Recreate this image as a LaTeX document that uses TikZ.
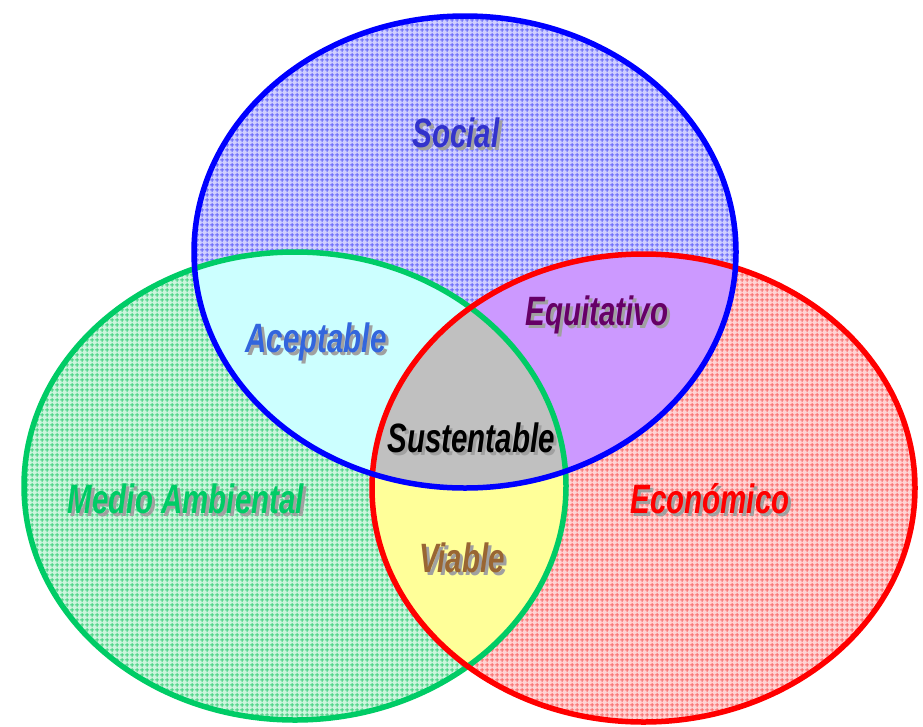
\documentclass[tikz,border=0pt]{standalone}
\usepackage{fontspec}
\usetikzlibrary{patterns}
\newfontfamily\labfont{Liberation Sans}[FakeStretch=0.72]
\definecolor{bluebase}{RGB}{208,208,255}
\definecolor{blueline}{RGB}{105,105,250}
\definecolor{greenbase}{RGB}{205,245,222}
\definecolor{greenline}{RGB}{70,210,130}
\definecolor{redbase}{RGB}{255,212,212}
\definecolor{redline}{RGB}{250,110,110}
\definecolor{cyanfill}{RGB}{204,255,255}
\definecolor{lilacfill}{RGB}{204,153,255}
\definecolor{yellowfill}{RGB}{255,255,153}
\definecolor{grayfill}{RGB}{192,192,192}
\definecolor{blueedge}{RGB}{0,0,255}
\definecolor{greenedge}{RGB}{0,204,102}
\definecolor{rededge}{RGB}{255,0,0}
\definecolor{socialtxt}{RGB}{51,51,204}
\definecolor{acepttxt}{RGB}{51,102,221}
\definecolor{equitxt}{RGB}{102,0,102}
\definecolor{viabletxt}{RGB}{153,102,51}
\definecolor{mediotxt}{RGB}{0,204,102}
\definecolor{econtxt}{RGB}{255,0,0}
\definecolor{shadowtxt}{RGB}{160,160,160}
\pgfdeclarepatternformonly{finegrid}{\pgfpointorigin}{\pgfpoint{5pt}{5pt}}{\pgfpoint{5pt}{5pt}}{%
  \pgfsetlinewidth{1.1pt}%
  \pgfpathmoveto{\pgfpoint{0pt}{2.5pt}}\pgfpathlineto{\pgfpoint{5pt}{2.5pt}}%
  \pgfpathmoveto{\pgfpoint{2.5pt}{0pt}}\pgfpathlineto{\pgfpoint{2.5pt}{5pt}}%
  \pgfusepath{stroke}}
\newcommand{\shadowed}[1]{\makebox[0pt][l]{\hspace{3pt}\raisebox{-3pt}{\textcolor{shadowtxt}{#1}}}#1}
\tikzset{
  edge/.style={line width=5.5pt},
  lab/.style={font=\labfont\fontsize{41}{41}\selectfont\bfseries\itshape, inner sep=0pt, anchor=base},
}
\begin{document}
\begin{tikzpicture}[x=1pt,y=-1pt]
\useasboundingbox (0,0) rectangle (923,726);
% base hatched fills
\fill[greenbase] (295,486) ellipse [x radius=271pt, y radius=234pt];
\fill[pattern=finegrid, pattern color=greenline] (295,486) ellipse [x radius=271pt, y radius=234pt];
\fill[redbase] (643.5,488) ellipse [x radius=271.5pt, y radius=234pt];
\fill[pattern=finegrid, pattern color=redline] (643.5,488) ellipse [x radius=271.5pt, y radius=234pt];
\fill[bluebase] (465,252) ellipse [x radius=271pt, y radius=236pt];
\fill[pattern=finegrid, pattern color=blueline] (465,252) ellipse [x radius=271pt, y radius=236pt];
% pairwise intersections
\begin{scope}
  \clip (465,252) ellipse [x radius=271pt, y radius=236pt];
  \fill[cyanfill] (295,486) ellipse [x radius=271pt, y radius=234pt];
  \fill[lilacfill] (643.5,488) ellipse [x radius=271.5pt, y radius=234pt];
\end{scope}
\begin{scope}
  \clip (295,486) ellipse [x radius=271pt, y radius=234pt];
  \fill[yellowfill] (643.5,488) ellipse [x radius=271.5pt, y radius=234pt];
\end{scope}
\begin{scope}
  \clip (465,252) ellipse [x radius=271pt, y radius=236pt];
  \clip (295,486) ellipse [x radius=271pt, y radius=234pt];
  \fill[grayfill] (643.5,488) ellipse [x radius=271.5pt, y radius=234pt];
\end{scope}
% borders
\draw[edge, greenedge] (295,486) ellipse [x radius=271pt, y radius=234pt];
\draw[edge, rededge] (643.5,488) ellipse [x radius=271.5pt, y radius=234pt];
\draw[edge, blueedge] (465,252) ellipse [x radius=271pt, y radius=236pt];
% labels with shadows
\node[lab, text=socialtxt] (social) at (456,147) {\shadowed{Social}};
\node[lab, text=acepttxt] (acept) at (316,352) {\shadowed{Aceptable}};
\node[lab, text=equitxt] (equi) at (597,325) {\shadowed{Equitativo}};
\node[lab, text=black] (sust) at (471,452) {\shadowed{Sustentable}};
\node[lab, text=viabletxt] (via) at (462,572) {\shadowed{Viable}};
\node[lab, text=mediotxt] (medio) at (186,513) {\shadowed{Medio Ambiental}};
\node[lab, text=econtxt] (econ) at (710,513) {\shadowed{Económico}};
\end{tikzpicture}
\end{document}
